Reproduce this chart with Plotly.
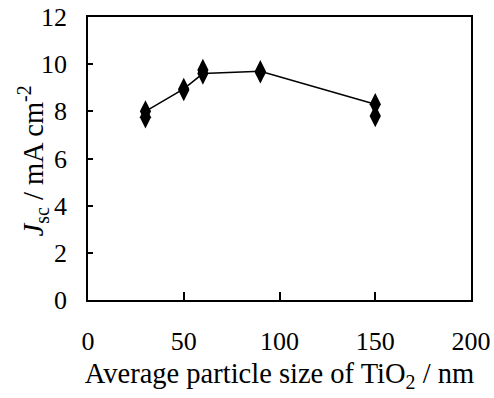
import plotly.graph_objects as go

sizes = [30, 50, 60, 90, 150]
jsc_a = [8.0, 8.95, 9.6, 9.7, 8.3]
jsc_b = [7.75, 8.9, 9.75, 9.65, 7.8]
x_ticks = [0, 50, 100, 150, 200]
y_ticks = [0, 2, 4, 6, 8, 10, 12]

fig = go.Figure()
fig.add_trace(go.Scatter(x=sizes, y=jsc_a, mode="lines+markers",
                         line=dict(color="black", width=1.5),
                         marker=dict(symbol="diamond-tall", size=16, color="black")))
fig.add_trace(go.Scatter(x=sizes, y=jsc_b, mode="markers",
                         marker=dict(symbol="diamond-tall", size=16, color="black")))

fam = "'Liberation Serif', 'Times New Roman', Times, serif"
font = dict(family=fam, size=26, color="black")
tfont = dict(family=fam, size=28.5, color="black")
fig.update_layout(
    width=494, height=398,
    margin=dict(l=88, r=23, t=17, b=98),
    plot_bgcolor="white", paper_bgcolor="white",
    showlegend=False, font=font,
)
fig.update_xaxes(range=[0, 200], tickvals=x_ticks, ticks="inside", ticklen=8,
                 tickcolor="black", tickwidth=1.5, showline=True, linecolor="black",
                 linewidth=1.5, mirror=True, showgrid=False, zeroline=False,
                 automargin=False,
                 ticklabelstandoff=17, tickfont=font,
                 title=dict(text="Average particle size of TiO<sub>2</sub> / nm", font=tfont, standoff=8))
fig.update_yaxes(range=[0, 12], tickvals=y_ticks, ticks="inside", ticklen=5,
                 tickcolor="black", tickwidth=1.5, showline=True, linecolor="black",
                 linewidth=1.5, mirror=True, showgrid=False, zeroline=False,
                 automargin=False,
                 ticklabelstandoff=14, tickfont=font)
fig.add_annotation(text="<i>J</i><sub>sc</sub> / mA cm<sup>-2</sup>",
                   xref="paper", yref="paper", x=0, y=0.5, xanchor="center", yanchor="middle",
                   xshift=-55, yshift=-3, textangle=-90, showarrow=False, font=tfont)

fig.write_html("out.html")
